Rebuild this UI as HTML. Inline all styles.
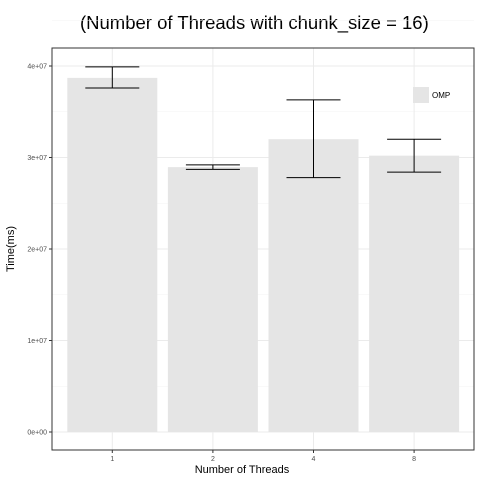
<!DOCTYPE html>
<html><head><meta charset="utf-8"><style>
body{margin:0;background:#fff;font-family:"Liberation Sans",sans-serif}
</style></head><body>
<svg id="chart" width="480" height="480" xmlns="http://www.w3.org/2000/svg">
<text x="80" y="29" font-size="18.5" fill="#000">(Number of Threads with chunk_size = 16)</text>
<g id="grid"></g>
<g id="bars"></g>
<g id="axes"></g>
<rect x="52" y="48" width="422" height="402" fill="none" stroke="#333" stroke-width="1"/>
<g>
<rect x="413" y="87" width="16" height="16" fill="#e5e5e5"/>
<text x="432" y="98" font-size="8">OMP</text>
</g>
<text x="242" y="473" font-size="11" text-anchor="middle">Number of Threads</text>
<text transform="translate(14,249) rotate(-90)" font-size="11" text-anchor="middle">Time(ms)</text>
</svg>
<script>
const categories=["1","2","4","8"];
const values=[3.87e7,2.895e7,3.2e7,3.02e7];
const errLow=[3.76e7,2.87e7,2.78e7,2.84e7];
const errHigh=[3.99e7,2.92e7,3.63e7,3.2e7];
const yTicks=[0,1e7,2e7,3e7,4e7];
const yTickLabels=["0e+00","1e+07","2e+07","3e+07","4e+07"];
const NS="http://www.w3.org/2000/svg";
const y=v=>432-v*(366/4e7);
const band=100.6, x0=62;
const xc=i=>x0+band*(i+0.5);
function mk(t,a,p){const e=document.createElementNS(NS,t);for(const k in a)e.setAttribute(k,a[k]);p.appendChild(e);return e;}
const grid=document.getElementById('grid'),bars=document.getElementById('bars'),axes=document.getElementById('axes');
for(let i=0;i<yTicks.length;i++){
  const g=mk('line',{x1:52,x2:474,y1:y(yTicks[i]),y2:y(yTicks[i]),stroke:'#ebebeb','stroke-width':1},grid);
  
  
  if(i<yTicks.length-1){const m=mk('line',{x1:52,x2:474,y1:y((yTicks[i]+yTicks[i+1])/2),y2:y((yTicks[i]+yTicks[i+1])/2),stroke:'#f3f3f3','stroke-width':0.6},grid);
  
  }
  const tk=mk('line',{x1:49,x2:52,y1:y(yTicks[i]),y2:y(yTicks[i]),stroke:'#333'},axes);
  
  
  const t=mk('text',{x:47,y:y(yTicks[i])+2.5,'font-size':7,'text-anchor':'end',fill:'#4d4d4d'},axes);
  t.textContent=yTickLabels[i];
  
  
}
const mm=mk('line',{x1:52,x2:474,y1:y(4.5e7),y2:y(4.5e7),stroke:'#f3f3f3','stroke-width':0.6},grid);


categories.forEach((c,i)=>{
  const g=mk('line',{x1:xc(i),x2:xc(i),y1:48,y2:450,stroke:'#ebebeb'},grid);
  
  
  const b=mk('rect',{x:xc(i)-45,y:y(values[i]),width:90,height:y(0)-y(values[i]),fill:'#e5e5e5'},bars);
  
  
  const eg=mk('g',{stroke:'#000','stroke-width':1},bars);
  
  
  mk('line',{x1:xc(i),x2:xc(i),y1:y(errLow[i]),y2:y(errHigh[i])},eg);
  mk('line',{x1:xc(i)-27,x2:xc(i)+27,y1:y(errLow[i]),y2:y(errLow[i])},eg);
  mk('line',{x1:xc(i)-27,x2:xc(i)+27,y1:y(errHigh[i]),y2:y(errHigh[i])},eg);
  const tk=mk('line',{x1:xc(i),x2:xc(i),y1:450,y2:453,stroke:'#333'},axes);
  
  
  const t=mk('text',{x:xc(i),y:461,'font-size':7,'text-anchor':'middle',fill:'#4d4d4d'},axes);
  t.textContent=c;
  
  
});
</script>
</body></html>
